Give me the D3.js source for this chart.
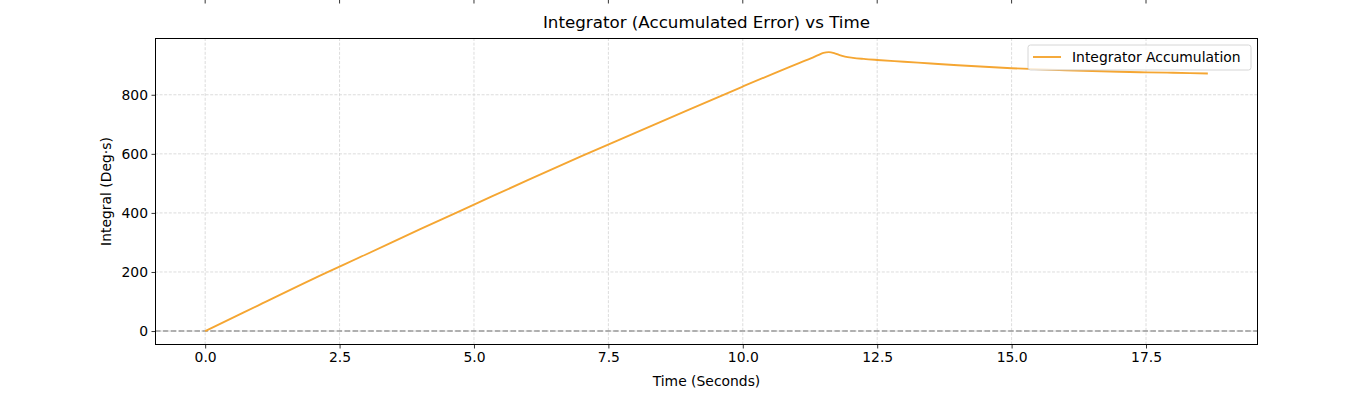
<!DOCTYPE html>
<html>
<head>
<meta charset="utf-8">
<script src="https://cdn.jsdelivr.net/npm/d3@7"></script>
<style>
  body { margin: 0; background: #fff; }
  text { font-family: "DejaVu Sans", sans-serif; fill: #000; }
</style>
</head>
<body>
<div id="chart"></div>
<script>
// data
const times = [0, 1, 2, 3, 4, 5, 6, 7, 8, 9, 10, 11, 11.3, 11.4, 11.5, 11.6, 11.7, 11.8, 11.9, 12.05, 12.25, 12.5, 13, 13.5, 14, 15, 16, 17, 17.5, 18, 18.65];
const integral = [0, 88, 176, 260, 345, 428, 511, 592, 671, 750, 828, 904, 926, 934, 942, 944.5, 941, 934, 929, 925, 921.5, 918, 912, 906, 900, 890, 883, 878, 876, 874.5, 872];
const xTicks = [0, 2.5, 5, 7.5, 10, 12.5, 15, 17.5];
const yTicks = [0, 200, 400, 600, 800];

const W = 1372, H = 410;
const margin = {top: 38, right: 114, bottom: 65, left: 155};
const width = W - margin.left - margin.right;
const height = H - margin.top - margin.bottom;

const svg = d3.select("#chart").append("svg")
  .attr("width", W).attr("height", H);

// matplotlib-like 5% margins
const xScale = d3.scaleLinear().domain([-0.933, 19.583]).range([0, width]);
const yScale = d3.scaleLinear().domain([-47.25, 992.25]).range([height, 0]);

// stray ticks from the subplot above
svg.append("g").selectAll("line").data(xTicks).enter().append("line")
  .attr("x1", d => margin.left + xScale(d)).attr("x2", d => margin.left + xScale(d))
  .attr("y1", 0).attr("y2", 3.5)
  .attr("stroke", "#000").attr("stroke-width", 0.8);

const g = svg.append("g").attr("transform", `translate(${margin.left},${margin.top})`);

// grid
g.append("g").selectAll("line").data(xTicks).enter().append("line")
  .attr("x1", d => xScale(d)).attr("x2", d => xScale(d))
  .attr("y1", 0).attr("y2", height)
  .attr("stroke", "#d3d3d3").attr("stroke-width", 0.8).attr("stroke-dasharray", "3,1.6");
g.append("g").selectAll("line").data(yTicks).enter().append("line")
  .attr("x1", 0).attr("x2", width)
  .attr("y1", d => yScale(d)).attr("y2", d => yScale(d))
  .attr("stroke", "#d3d3d3").attr("stroke-width", 0.8).attr("stroke-dasharray", "3,1.6");

// zero reference line
g.append("line")
  .attr("x1", 0).attr("x2", width)
  .attr("y1", yScale(0)).attr("y2", yScale(0))
  .attr("stroke", "#999").attr("stroke-width", 1.6).attr("stroke-dasharray", "5.5,2.4");

// the series
const line = d3.line()
  .x((d, i) => xScale(times[i]))
  .y(d => yScale(d))
  .curve(d3.curveMonotoneX);
g.append("path")
  .datum(integral)
  .attr("fill", "none")
  .attr("stroke", "#f5a632")
  .attr("stroke-width", 1.9)
  .attr("d", line);

// axes
const xAxis = d3.axisBottom(xScale).tickValues(xTicks).tickFormat(d3.format(".1f")).tickSizeOuter(0).tickSize(3.5).tickPadding(3.5);
const gx = g.append("g").attr("transform", `translate(0,${height})`).call(xAxis);
const yAxis = d3.axisLeft(yScale).tickValues(yTicks).tickFormat(d3.format("d")).tickSizeOuter(0).tickSize(3.5).tickPadding(3.5);
const gy = g.append("g").call(yAxis);
[gx, gy].forEach(a => {
  a.select(".domain").remove();
  a.selectAll("line").attr("stroke", "#000").attr("stroke-width", 0.8);
  a.selectAll("text").style("font-size", "13.9px").style("font-family", "DejaVu Sans");
});

// frame
g.append("rect")
  .attr("x", 0.5).attr("y", 0.5)
  .attr("width", width - 1).attr("height", height - 1)
  .attr("fill", "none").attr("stroke", "#000").attr("stroke-width", 1);

// labels
svg.append("text")
  .attr("x", margin.left + width / 2).attr("y", 28)
  .attr("text-anchor", "middle")
  .style("font-size", "16.7px")
  .text("Integrator (Accumulated Error) vs Time");

svg.append("text")
  .attr("x", margin.left + width / 2).attr("y", 386)
  .attr("text-anchor", "middle")
  .style("font-size", "13.9px")
  .text("Time (Seconds)");

svg.append("text")
  .attr("transform", `translate(111,${margin.top + height / 2}) rotate(-90)`)
  .attr("text-anchor", "middle")
  .style("font-size", "13.9px")
  .text("Integral (Deg·s)");

// legend
const lg = g.append("g").attr("transform", `translate(${width - 230},7)`);
lg.append("rect")
  .attr("width", 223).attr("height", 25).attr("rx", 2.5)
  .attr("fill", "#fff").attr("fill-opacity", 0.8)
  .attr("stroke", "#ccc").attr("stroke-width", 0.8);
lg.append("line")
  .attr("x1", 5).attr("x2", 33).attr("y1", 12).attr("y2", 12)
  .attr("stroke", "#f5a632").attr("stroke-width", 1.9);
lg.append("text")
  .attr("x", 44).attr("y", 17)
  .style("font-size", "13.9px")
  .text("Integrator Accumulation");
</script>
</body>
</html>
